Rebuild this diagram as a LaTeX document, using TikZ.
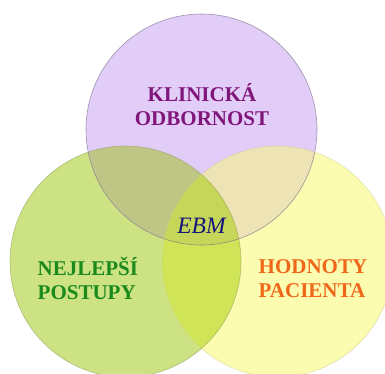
\documentclass[tikz,border=0pt]{standalone}
\usepackage{fontspec}
\setmainfont{Liberation Serif}
\definecolor{purplefill}{HTML}{E2CDF9}
\definecolor{greenfill}{HTML}{CCE283}
\definecolor{yellowfill}{HTML}{FCFCB0}
\definecolor{tlfill}{HTML}{BEC585}
\definecolor{trfill}{HTML}{EEE3B4}
\definecolor{lrfill}{HTML}{CFE457}
\definecolor{allfill}{HTML}{C6D658}
\definecolor{purpletext}{HTML}{80157A}
\definecolor{greentext}{HTML}{1B8A1B}
\definecolor{orangetext}{HTML}{F0671A}
\definecolor{navytext}{HTML}{16167A}
\tikzset{
  ring/.style={line width=0.6pt},
  label/.style={font=\fontsize{21}{23.5}\selectfont\bfseries, align=left, inner sep=0pt},
}
\begin{document}
\begin{tikzpicture}[x=1pt,y=-1pt]
\useasboundingbox (0,0) rectangle (385,373);
\fill[white] (0,0) rectangle (385,373);
\coordinate (T) at (201.5,129.5);
\coordinate (L) at (125.5,261.5);
\coordinate (R) at (277.5,261.5);
\def\rad{115.5pt}
% base discs
\fill[greenfill] (L) circle (\rad);
\fill[yellowfill] (R) circle (\rad);
\fill[purplefill] (T) circle (\rad);
% pairwise overlaps
\begin{scope}
  \clip (T) circle (\rad);
  \fill[tlfill] (L) circle (\rad);
\end{scope}
\begin{scope}
  \clip (T) circle (\rad);
  \fill[trfill] (R) circle (\rad);
\end{scope}
\begin{scope}
  \clip (L) circle (\rad);
  \fill[lrfill] (R) circle (\rad);
\end{scope}
% centre where all three meet
\begin{scope}
  \clip (T) circle (\rad);
  \clip (L) circle (\rad);
  \fill[allfill] (R) circle (\rad);
\end{scope}
% outlines
\draw[ring, draw=yellowfill!80!black, opacity=0.5] (R) circle (\rad);
\draw[ring, draw=greenfill!70!black, opacity=0.6] (L) circle (\rad);
\draw[ring, draw=purplefill!55!black, opacity=0.7] (T) circle (\rad);
% labels
\node[label, align=center, text=purpletext] (klin) at (202,104.5) {KLINICKÁ\\ODBORNOST};
\node[label, text=greentext, anchor=west] (nej) at (37.5,278.5) {NEJLEPŠÍ\\POSTUPY};
\node[label, text=orangetext, anchor=west] (hod) at (258.5,278.5) {HODNOTY\\PACIENTA};
\node[font=\fontsize{23.5}{26}\selectfont\itshape, text=navytext, inner sep=0pt] (ebm) at (201.5,225.5) {EBM};
\end{tikzpicture}
\end{document}
